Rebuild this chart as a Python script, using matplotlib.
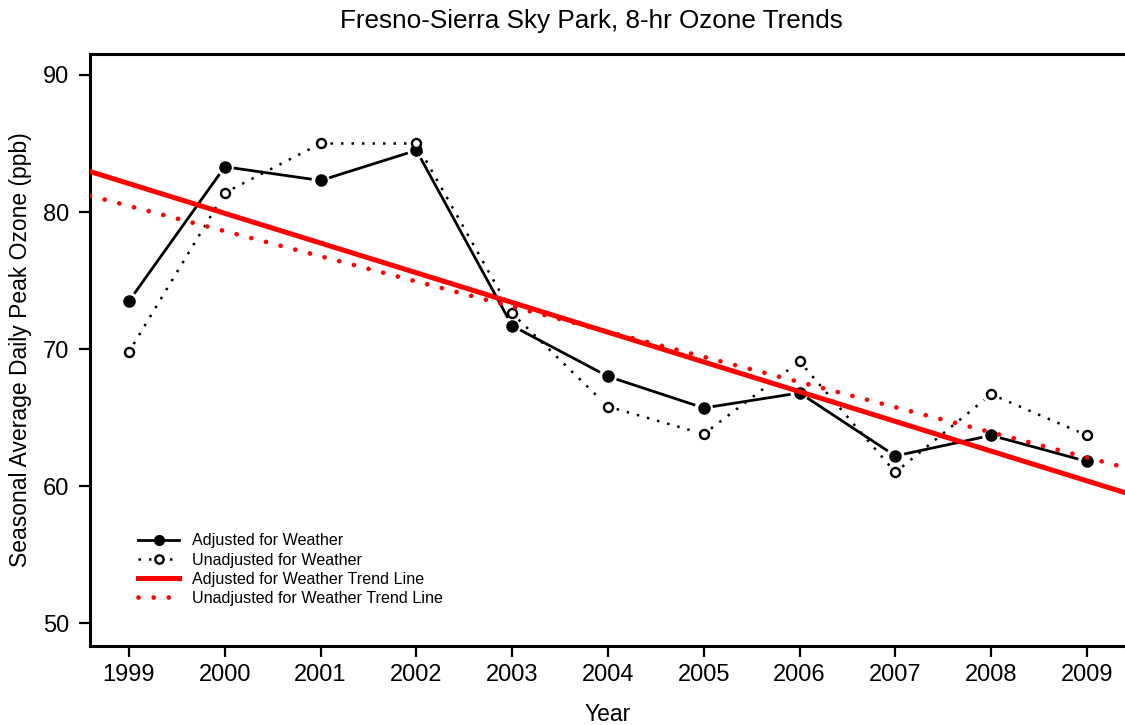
import numpy as np
import matplotlib
matplotlib.use('Agg')
import matplotlib.pyplot as plt
from matplotlib.lines import Line2D

plt.rcParams['font.family'] = ['Liberation Sans', 'DejaVu Sans']

# Seasonal average daily peak 8-hr ozone (ppb)
years = [1999, 2000, 2001, 2002, 2003, 2004, 2005, 2006, 2007, 2008, 2009]
adjusted = [73.5, 83.3, 82.3, 84.5, 71.7, 68.0, 65.7, 66.8, 62.2, 63.7, 61.8]
unadjusted = [69.8, 81.4, 85.0, 85.0, 72.6, 65.8, 63.8, 69.1, 61.0, 66.7, 63.7]
yticks = [50, 60, 70, 80, 90]

W, H = 1125, 725
fig = plt.figure(figsize=(W / 100, H / 100), dpi=100)
ax = fig.add_axes([90 / W, (H - 646) / H, (W - 90) / W, (646 - 54) / H])
ax.set_xlim(1998.593, 2009.397)
ax.set_ylim(48.33, 91.53)


def gapped(x, y, gap, **kw):
    # connect points with segments that stop short of each marker
    tr = ax.transData
    pts = tr.transform(np.column_stack([x, y]))
    for p, q in zip(pts[:-1], pts[1:]):
        d = q - p
        u = d / np.hypot(*d)
        seg = tr.inverted().transform([p + u * gap, q - u * gap])
        ax.plot(seg[:, 0], seg[:, 1], **kw)


gapped(years, adjusted, 9, color='black', lw=2.0, solid_capstyle='butt')
gapped(years, unadjusted, 9, color='black', lw=1.8, linestyle=(0, (1, 3.2)))
ax.plot(years, adjusted, 'o', color='black', ms=8, zorder=3)
ax.plot(years, unadjusted, 'o', mfc='white', mec='black', mew=1.7, ms=6.5, zorder=3)

# linear trend lines over the full x range
xs = np.array(ax.get_xlim())
fa = np.polyfit(years, adjusted, 1)
fu = np.polyfit(years, unadjusted, 1)
ax.plot(xs, np.polyval(fa, xs), color='red', lw=3.6, zorder=4)
ax.plot(xs, np.polyval(fu, xs), color='red', lw=3.4, linestyle=(0, (0.01, 3.2)),
        dash_capstyle='round', zorder=4)

ax.set_xticks(years)
ax.set_xticklabels([str(y) for y in years])
ax.set_yticks(yticks)
ax.tick_params(axis='both', labelsize=17, length=8, width=1.6, direction='out')
ax.tick_params(axis='y', pad=7)
ax.tick_params(axis='x', pad=5)
for side in ['left', 'bottom', 'top']:
    ax.spines[side].set_linewidth(2.2)
ax.spines['right'].set_visible(False)

ax.set_ylabel('Seasonal Average Daily Peak Ozone (ppb)', fontsize=16.5, labelpad=8)
ax.set_xlabel('Year', fontsize=16.5, labelpad=12)
fig.text(591 / W, 1 - 21 / H, 'Fresno-Sierra Sky Park, 8-hr Ozone Trends',
         fontsize=18.8, ha='center', va='center')

handles = [
    Line2D([], [], color='black', lw=2.0, marker='o', ms=7),
    Line2D([], [], color='black', lw=1.8, linestyle=(0, (1, 3.2)), marker='o',
           mfc='white', mec='black', mew=1.7, ms=6),
    Line2D([], [], color='red', lw=3.6),
    Line2D([], [], color='red', lw=3.4, linestyle=(0, (0.01, 3.2)), dash_capstyle='round'),
]
labels = ['Adjusted for Weather', 'Unadjusted for Weather',
          'Adjusted for Weather Trend Line', 'Unadjusted for Weather Trend Line']
fig.legend(handles, labels, loc='upper left', bbox_to_anchor=(132 / W, 1 - 527 / H),
           frameon=False, fontsize=11.6, handlelength=2.5, handletextpad=0.8,
           labelspacing=0.26, borderaxespad=0)

fig.savefig('out.png', dpi=100)
